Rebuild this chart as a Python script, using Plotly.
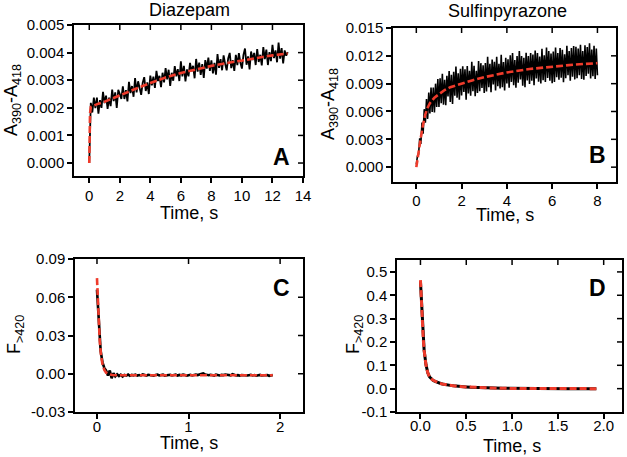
import plotly.graph_objects as go

# ---------------- DATA ----------------
# Panel A (Diazepam): A390-A418 vs time (s)
a_time = [0.0, 0.03, 0.06,
          0.1, 0.2, 0.3, 0.4, 0.5, 0.6, 0.7, 0.8, 0.9, 1.0,
          1.1, 1.2, 1.3, 1.4, 1.5, 1.6, 1.7, 1.8, 1.9, 2.0,
          2.1, 2.2, 2.3, 2.4, 2.5, 2.6, 2.7, 2.8, 2.9, 3.0,
          3.1, 3.2, 3.3, 3.4, 3.5, 3.6, 3.7, 3.8, 3.9, 4.0,
          4.1, 4.2, 4.3, 4.4, 4.5, 4.6, 4.7, 4.8, 4.9, 5.0,
          5.1, 5.2, 5.3, 5.4, 5.5, 5.6, 5.7, 5.8, 5.9, 6.0,
          6.1, 6.2, 6.3, 6.4, 6.5, 6.6, 6.7, 6.8, 6.9, 7.0,
          7.1, 7.2, 7.3, 7.4, 7.5, 7.6, 7.7, 7.8, 7.9, 8.0,
          8.1, 8.2, 8.3, 8.4, 8.5, 8.6, 8.7, 8.8, 8.9, 9.0,
          9.1, 9.2, 9.3, 9.4, 9.5, 9.6, 9.7, 9.8, 9.9, 10.0,
          10.1, 10.2, 10.3, 10.4, 10.5, 10.6, 10.7, 10.8, 10.9, 11.0,
          11.1, 11.2, 11.3, 11.4, 11.5, 11.6, 11.7, 11.8, 11.9, 12.0,
          12.1, 12.2, 12.3, 12.4, 12.5, 12.6, 12.7, 12.8, 12.9, 13.0]
a_signal = [0.00000, 0.00110, 0.00170,
            0.00218, 0.00183, 0.00237, 0.00199, 0.00237, 0.00179, 0.00228, 0.00200, 0.00258, 0.00217,
            0.00244, 0.00196, 0.00237, 0.00206, 0.00266, 0.00224, 0.00256, 0.00200, 0.00265, 0.00250,
            0.00232, 0.00278, 0.00232, 0.00264, 0.00223, 0.00294, 0.00253, 0.00279, 0.00240, 0.00308,
            0.00256, 0.00296, 0.00269, 0.00247, 0.00291, 0.00311, 0.00261, 0.00292, 0.00250, 0.00317,
            0.00281, 0.00313, 0.00272, 0.00334, 0.00297, 0.00316, 0.00275, 0.00327, 0.00292, 0.00344,
            0.00303, 0.00338, 0.00279, 0.00327, 0.00298, 0.00351, 0.00314, 0.00340, 0.00297, 0.00368,
            0.00314, 0.00352, 0.00296, 0.00339, 0.00314, 0.00363, 0.00332, 0.00352, 0.00307, 0.00377,
            0.00331, 0.00364, 0.00319, 0.00358, 0.00308, 0.00373, 0.00342, 0.00382, 0.00334, 0.00372,
            0.00325, 0.00363, 0.00320, 0.00395, 0.00345, 0.00376, 0.00336, 0.00390, 0.00359, 0.00336,
            0.00379, 0.00399, 0.00344, 0.00373, 0.00334, 0.00392, 0.00355, 0.00398, 0.00363, 0.00342,
            0.00392, 0.00415, 0.00356, 0.00386, 0.00339, 0.00404, 0.00373, 0.00399, 0.00355, 0.00413,
            0.00366, 0.00392, 0.00354, 0.00420, 0.00376, 0.00411, 0.00355, 0.00402, 0.00369, 0.00428,
            0.00380, 0.00408, 0.00365, 0.00436, 0.00378, 0.00416, 0.00361, 0.00408, 0.00389, 0.00402]
a_fit_time = [0, 0.02, 0.05, 0.1, 0.3, 0.6, 1, 1.5, 2, 3, 4, 5, 6, 7, 8, 9, 10, 11, 12, 13]
a_fit = [0.0, 0.0011, 0.0018, 0.00203, 0.00208, 0.00215, 0.00222, 0.00234, 0.00245, 0.00268,
         0.00290, 0.00310, 0.00326, 0.00340, 0.00352, 0.00362, 0.00372, 0.00380, 0.00390, 0.00397]

# Panel B (Sulfinpyrazone): A390-A418 vs time (s)
b_time = [0.0,
          0.05, 0.10, 0.15, 0.20, 0.25, 0.30, 0.35, 0.40, 0.45, 0.50,
          0.55, 0.60, 0.65, 0.70, 0.75, 0.80, 0.85, 0.90, 0.95, 1.00,
          1.05, 1.10, 1.15, 1.20, 1.25, 1.30, 1.35, 1.40, 1.45, 1.50,
          1.55, 1.60, 1.65, 1.70, 1.75, 1.80, 1.85, 1.90, 1.95, 2.00,
          2.05, 2.10, 2.15, 2.20, 2.25, 2.30, 2.35, 2.40, 2.45, 2.50,
          2.55, 2.60, 2.65, 2.70, 2.75, 2.80, 2.85, 2.90, 2.95, 3.00,
          3.05, 3.10, 3.15, 3.20, 3.25, 3.30, 3.35, 3.40, 3.45, 3.50,
          3.55, 3.60, 3.65, 3.70, 3.75, 3.80, 3.85, 3.90, 3.95, 4.00,
          4.05, 4.10, 4.15, 4.20, 4.25, 4.30, 4.35, 4.40, 4.45, 4.50,
          4.55, 4.60, 4.65, 4.70, 4.75, 4.80, 4.85, 4.90, 4.95, 5.00,
          5.05, 5.10, 5.15, 5.20, 5.25, 5.30, 5.35, 5.40, 5.45, 5.50,
          5.55, 5.60, 5.65, 5.70, 5.75, 5.80, 5.85, 5.90, 5.95, 6.00,
          6.05, 6.10, 6.15, 6.20, 6.25, 6.30, 6.35, 6.40, 6.45, 6.50,
          6.55, 6.60, 6.65, 6.70, 6.75, 6.80, 6.85, 6.90, 6.95, 7.00,
          7.05, 7.10, 7.15, 7.20, 7.25, 7.30, 7.35, 7.40, 7.45, 7.50,
          7.55, 7.60, 7.65, 7.70, 7.75, 7.80, 7.85, 7.90, 7.95, 8.00]
b_signal = [0.00030,
            0.00120, 0.00140, 0.00310, 0.00250, 0.00480, 0.00360, 0.00625, 0.00480, 0.00735, 0.00520,
            0.00805, 0.00580, 0.00858, 0.00595, 0.00858, 0.00590, 0.00900, 0.00650, 0.00950, 0.00650,
            0.00959, 0.00688, 0.01006, 0.00674, 0.00941, 0.00668, 0.00985, 0.00761, 0.01037, 0.00702,
            0.00997, 0.00682, 0.01027, 0.00771, 0.01085, 0.00749, 0.01013, 0.00727, 0.01061, 0.00774,
            0.01087, 0.00810, 0.01054, 0.00727, 0.01091, 0.00794, 0.01038, 0.00771, 0.01135, 0.00818,
            0.01092, 0.00765, 0.01038, 0.00801, 0.01145, 0.00818, 0.01121, 0.00854, 0.01097, 0.00800,
            0.01123, 0.00816, 0.01189, 0.00861, 0.01114, 0.00807, 0.01160, 0.00892, 0.01135, 0.00827,
            0.01190, 0.00872, 0.01115, 0.00847, 0.01210, 0.00862, 0.01134, 0.00826, 0.01179, 0.00901,
            0.01163, 0.00855, 0.01207, 0.00919, 0.01231, 0.00883, 0.01155, 0.00857, 0.01199, 0.00911,
            0.01253, 0.00945, 0.01197, 0.00878, 0.01180, 0.00862, 0.01234, 0.00935, 0.01197, 0.00898,
            0.01230, 0.00931, 0.01213, 0.00884, 0.01256, 0.00957, 0.01229, 0.00920, 0.01192, 0.00903,
            0.01275, 0.00936, 0.01207, 0.00918, 0.01290, 0.00961, 0.01252, 0.00933, 0.01225, 0.00906,
            0.01247, 0.00918, 0.01289, 0.00970, 0.01231, 0.00942, 0.01283, 0.00964, 0.01265, 0.00916,
            0.01217, 0.00958, 0.01309, 0.00990, 0.01251, 0.00932, 0.01283, 0.00974, 0.01305, 0.00946,
            0.01297, 0.00958, 0.01279, 0.00990, 0.01320, 0.00951, 0.01252, 0.00943, 0.01313, 0.00984,
            0.01295, 0.01006, 0.01336, 0.00957, 0.01268, 0.00979, 0.01309, 0.00950, 0.01280, 0.00991]
b_fit_time = [0, 0.05, 0.1, 0.2, 0.3, 0.4, 0.5, 0.6, 0.8, 1.0, 1.25, 1.5, 2, 2.5, 3, 3.5, 4, 5, 6, 7, 8]
b_fit = [0.0, 0.0009, 0.0018, 0.0032, 0.0046, 0.0057, 0.0064, 0.0069, 0.0075, 0.0079, 0.00831,
         0.00862, 0.00904, 0.00938, 0.00970, 0.00997, 0.01021, 0.01058, 0.01086, 0.01106, 0.01121]

# Panel C (Diazepam): F>420 vs time (s)
c_time = [0.00, 0.02, 0.04, 0.06, 0.08, 0.10, 0.12, 0.14, 0.16, 0.18,
          0.20, 0.22, 0.24, 0.26, 0.28, 0.30, 0.32, 0.34, 0.36, 0.38,
          0.40, 0.42, 0.44, 0.46, 0.48, 0.50, 0.52, 0.54, 0.56, 0.58,
          0.60, 0.62, 0.64, 0.66, 0.68, 0.70, 0.72, 0.74, 0.76, 0.78,
          0.80, 0.82, 0.84, 0.86, 0.88, 0.90, 0.92, 0.94, 0.96, 0.98,
          1.00, 1.02, 1.04, 1.06, 1.08, 1.10, 1.12, 1.14, 1.16, 1.18,
          1.20, 1.22, 1.24, 1.26, 1.28, 1.30, 1.32, 1.34, 1.36, 1.38,
          1.40, 1.42, 1.44, 1.46, 1.48, 1.50, 1.52, 1.54, 1.56, 1.58,
          1.60, 1.62, 1.64, 1.66, 1.68, 1.70, 1.72, 1.74, 1.76, 1.78,
          1.80, 1.82, 1.84, 1.86, 1.88, 1.90, 1.92]
c_signal = [0.0660, 0.0360, 0.0180, 0.0090, 0.0045, 0.0025, -0.0015, 0.0025, -0.0035, 0.0005,
            -0.0020, -0.0005, -0.0018, -0.0008, -0.0022, -0.0010, -0.0014, -0.0006, -0.0016, -0.0009,
            -0.0012, -0.0007, -0.0015, -0.0010, -0.0013, -0.0005, -0.0011, -0.0014, -0.0008, -0.0012,
            -0.0010, -0.0015, -0.0009, -0.0006, -0.0013, -0.0011, -0.0007, -0.0014, -0.0010, -0.0012,
            -0.0008, -0.0013, -0.0011, -0.0006, -0.0014, -0.0009, -0.0012, -0.0007, -0.0010, -0.0015,
            -0.0011, -0.0008, -0.0013, -0.0009, -0.0006, -0.0010, -0.0004, -0.0002, 0.0003, -0.0005,
            -0.0009, -0.0012, -0.0008, -0.0011, -0.0014, -0.0007, -0.0010, -0.0013, -0.0009, -0.0011,
            -0.0006, -0.0010, -0.0008, -0.0012, -0.0004, -0.0009, -0.0013, -0.0011, -0.0015, -0.0010,
            -0.0012, -0.0009, -0.0014, -0.0011, -0.0008, -0.0013, -0.0010, -0.0015, -0.0012, -0.0009,
            -0.0014, -0.0011, -0.0013, -0.0010, -0.0016, -0.0012, -0.0009]
c_fit_time = [0, 0.005, 0.01, 0.02, 0.03, 0.045, 0.06, 0.08, 0.1, 0.13, 0.17, 0.25, 0.5, 1.0, 1.5, 1.92]
c_fit = [0.075, 0.065, 0.055, 0.038, 0.026, 0.014, 0.0075, 0.003, 0.0008, -0.0005, -0.0010,
         -0.0012, -0.0012, -0.0012, -0.0012, -0.0012]

# Panel D (Sulfinpyrazone): F>420 vs time (s)
d_time = [0.00, 0.02, 0.04, 0.06, 0.08, 0.10, 0.12, 0.14, 0.16, 0.18, 0.20,
          0.22, 0.24, 0.26, 0.28, 0.30, 0.32, 0.34, 0.36, 0.38, 0.40,
          0.45, 0.50, 0.55, 0.60, 0.65, 0.70, 0.75, 0.80, 0.85, 0.90, 0.95, 1.00,
          1.1, 1.2, 1.3, 1.4, 1.5, 1.6, 1.7, 1.8, 1.9, 1.92]
d_signal = [0.460, 0.300, 0.165, 0.103, 0.068, 0.050, 0.041, 0.035, 0.031, 0.027, 0.024,
            0.022, 0.020, 0.018, 0.0165, 0.015, 0.014, 0.013, 0.012, 0.011, 0.0102,
            0.0088, 0.0075, 0.0063, 0.0052, 0.0043, 0.0035, 0.0029, 0.0024, 0.0020, 0.0016, 0.0013, 0.0010,
            0.0007, 0.0005, 0.0003, 0.0002, 0.0002, 0.0001, 0.0001, 0.0, 0.0, 0.0]
d_fit_time = [0, 0.01, 0.02, 0.03, 0.04, 0.06, 0.08, 0.1, 0.13, 0.16, 0.2, 0.25, 0.3, 0.4, 0.5,
              0.6, 0.8, 1.0, 1.3, 1.6, 1.92]
d_fit = [0.465, 0.37, 0.295, 0.215, 0.165, 0.102, 0.068, 0.05, 0.038, 0.031, 0.024, 0.019, 0.015,
         0.0102, 0.0075, 0.0052, 0.0024, 0.001, 0.0003, 0.0001, 0.0]

# Tick values / labels
a_xticks = [0, 2, 4, 6, 8, 10, 12, 14]
a_xlabels = ["0", "2", "4", "6", "8", "10", "12", "14"]
a_yticks = [0.0, 0.001, 0.002, 0.003, 0.004, 0.005]
a_ylabels = ["0.000", "0.001", "0.002", "0.003", "0.004", "0.005"]
b_xticks = [0, 2, 4, 6, 8]
b_xlabels = ["0", "2", "4", "6", "8"]
b_yticks = [0.0, 0.003, 0.006, 0.009, 0.012, 0.015]
b_ylabels = ["0.000", "0.003", "0.006", "0.009", "0.012", "0.015"]
c_xticks = [0, 1, 2]
c_xlabels = ["0", "1", "2"]
c_yticks = [-0.03, 0.0, 0.03, 0.06, 0.09]
c_ylabels = ["-0.03", "0.00", "0.03", "0.06", "0.09"]
d_xticks = [0.0, 0.5, 1.0, 1.5, 2.0]
d_xlabels = ["0.0", "0.5", "1.0", "1.5", "2.0"]
d_yticks = [-0.1, 0.0, 0.1, 0.2, 0.3, 0.4, 0.5]
d_ylabels = ["-0.1", "0.0", "0.1", "0.2", "0.3", "0.4", "0.5"]

panel_titles = ["Diazepam", "Sulfinpyrazone"]
panel_letters = ["A", "B", "C", "D"]
y_title_abs = "A<sub>390</sub>-A<sub>418</sub>"
y_title_fl = "F<sub>&gt;420</sub>"
x_title = "Time, s"

# ---------------- FIGURE ----------------
W, H = 627, 457
FONT = "Liberation Sans, Arial, Helvetica, sans-serif"
BLACK = "#000000"
RED = "#ee3b2b"
TICKLEN = 5
LW = 1.5

fig = go.Figure()

# pixel boxes (left, right, top, bottom) and x tick-label standoff
boxes = [(74, 303, 25, 176), (393, 616, 28, 182), (75, 303, 259, 412), (397, 622, 260, 412)]
xstandoff = [0, -1, -5, -6]
ranges = [
    ([-1.0, 14.0], [-0.00047, 0.005], a_xticks, a_xlabels, a_yticks, a_ylabels),
    ([-1.03, 8.82], [-0.0016, 0.015], b_xticks, b_xlabels, b_yticks, b_ylabels),
    ([-0.24, 2.25], [-0.03, 0.09], c_xticks, c_xlabels, c_yticks, c_ylabels),
    ([-0.256, 2.2], [-0.1, 0.551], d_xticks, d_xlabels, d_yticks, d_ylabels),
]
panels = [
    # (time, signal, fit_t, fit_y, black width, red width)
    (a_time, a_signal, a_fit_time, a_fit, 1.8, 2.6),
    (b_time, b_signal, b_fit_time, b_fit, 1.6, 2.6),
    (c_time, c_signal, c_fit_time, c_fit, 2.6, 2.6),
    (d_time, d_signal, d_fit_time, d_fit, 3.0, 3.0),
]

tickfont = dict(family=FONT, size=15, color=BLACK)
layout = {}
shapes = []
for i, ((l, r, t, b), (xr, yr, xt, xl, yt, yl), (tt, s, ft, fy, bw, rw)) in enumerate(
        zip(boxes, ranges, panels)):
    n = i + 1
    sx = "" if n == 1 else str(n)
    xa, ya = "x" + sx, "y" + sx
    common = dict(showgrid=False, zeroline=False, linecolor=BLACK, linewidth=LW,
                  tickcolor=BLACK, tickwidth=LW, ticklen=TICKLEN, tickfont=tickfont,
                  automargin=False, showline=True, mirror=True, ticks="outside",
                  tickmode="array", fixedrange=True)
    layout["xaxis" + sx] = dict(domain=[l / W, r / W], range=xr, anchor=ya,
                                tickvals=xt, ticktext=xl, ticklabelstandoff=xstandoff[i],
                                **common)
    layout["yaxis" + sx] = dict(domain=[1 - b / H, 1 - t / H], range=yr, anchor=xa,
                                tickvals=yt, ticktext=yl, **common)

    # measured trace (black) and fitted curve (red dashed)
    fig.add_trace(go.Scatter(x=tt, y=s, mode="lines", xaxis=xa, yaxis=ya,
                             line=dict(color=BLACK, width=bw), hoverinfo="skip"))
    fig.add_trace(go.Scatter(x=ft, y=fy, mode="lines", xaxis=xa, yaxis=ya,
                             line=dict(color=RED, width=rw, dash="7px,3px"), hoverinfo="skip"))

    # inward ticks on the top and right edges of the frame
    hfrac = TICKLEN / (b - t)
    wfrac = TICKLEN / (r - l)
    for v in xt:
        if xr[0] < v < xr[1]:
            shapes.append(dict(type="line", xref=xa, yref=ya + " domain",
                               x0=v, x1=v, y0=1, y1=1 - hfrac,
                               line=dict(color=BLACK, width=LW)))
    for v in yt:
        if yr[0] < v < yr[1]:
            shapes.append(dict(type="line", xref=xa + " domain", yref=ya,
                               x0=1, x1=1 - wfrac, y0=v, y1=v,
                               line=dict(color=BLACK, width=LW)))

ann = []
def px_ann(text, x, y, size, bold=False, angle=0):
    ann.append(dict(text=("<b>%s</b>" % text) if bold else text, x=x / W, y=1 - y / H,
                    xref="paper", yref="paper", showarrow=False, textangle=angle,
                    xanchor="center", yanchor="middle",
                    font=dict(family=FONT, size=size, color=BLACK)))

px_ann(panel_titles[0], 189, 10, 18)
px_ann(panel_titles[1], 507, 11, 18)
px_ann(y_title_abs, 12, 100, 18, angle=-90)
px_ann(y_title_abs, 329, 104, 18, angle=-90)
px_ann(y_title_fl, 15, 335, 18, angle=-90)
px_ann(y_title_fl, 354, 334, 18, angle=-90)
px_ann(x_title, 189, 213, 18)
px_ann(x_title, 505, 215, 18)
px_ann(x_title, 189, 443, 18)
px_ann(x_title, 512, 446, 18)
for letter, (x, y) in zip(panel_letters, [(281, 157), (597, 155), (281, 288), (597, 288)]):
    px_ann(letter, x, y, 23, bold=True)

fig.update_layout(template="none", width=W, height=H,
                  margin=dict(l=0, r=0, t=0, b=0, pad=0, autoexpand=False),
                  paper_bgcolor="white", plot_bgcolor="white", showlegend=False,
                  font=dict(family=FONT, color=BLACK),
                  annotations=ann, shapes=shapes, **layout)

fig.write_html("out.html")
